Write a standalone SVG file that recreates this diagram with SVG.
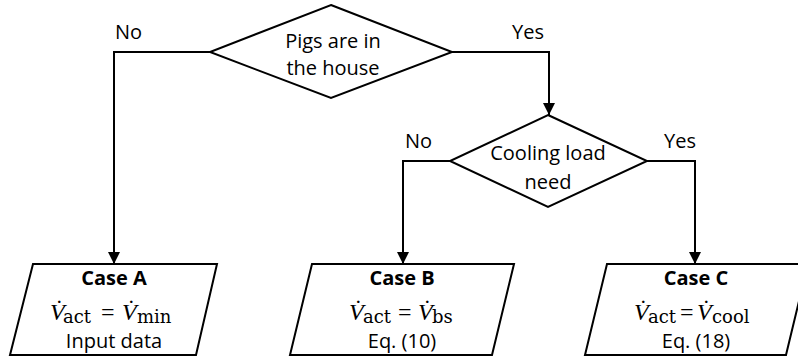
<svg xmlns="http://www.w3.org/2000/svg" width="798" height="360" viewBox="0 0 798 360">
  <style>
    .shape { fill: #ffffff; stroke: #000000; stroke-width: 2; stroke-linejoin: miter; }
    .conn { fill: none; stroke: #000000; stroke-width: 2; }
    .lbl { font-family: "Open Sans", "Noto Sans", sans-serif; font-size: 20px; fill: #000000; }
    .ttl { font-family: "Open Sans", "Noto Sans", sans-serif; font-size: 20px; font-weight: bold; fill: #000000; text-anchor: middle; }
    .mid { text-anchor: middle; }
    .mv { font-family: "Liberation Serif", "Times New Roman", serif; font-style: italic; font-size: 24px; fill: #000000; }
    .mo { font-family: "Liberation Serif", "Times New Roman", serif; font-size: 24px; fill: #000000; }
    .ms { font-family: "DejaVu Serif", "Liberation Serif", serif; font-size: 18px; fill: #000000; }
  </style>
  <defs>
    <marker id="arr" viewBox="0 0 12 12" refX="12" refY="6" markerWidth="12" markerHeight="12" markerUnits="userSpaceOnUse" orient="auto">
      <path d="M0,0 L12,6 L0,12 Z" fill="#000000"/>
    </marker>
  </defs>

  <g id="connectors">
    <polyline class="conn" points="210,52 114,52 114,264" marker-end="url(#arr)"/>
    <polyline class="conn" points="452,52 549,52 549,115" marker-end="url(#arr)"/>
    <polyline class="conn" points="450,161 403,161 403,264" marker-end="url(#arr)"/>
    <polyline class="conn" points="647,161 695,161 695,264" marker-end="url(#arr)"/>
    <text class="lbl" x="115" y="39">No</text>
    <text class="lbl" x="512" y="39">Yes</text>
    <text class="lbl" x="405" y="148">No</text>
    <text class="lbl" x="664" y="148">Yes</text>
  </g>

  <g id="decision-pigs">
    <polygon class="shape" points="331,5 452,52 331,98 210,52"/>
    <text class="lbl mid" x="333" y="48">Pigs are in</text>
    <text class="lbl mid" x="333" y="75">the house</text>
  </g>

  <g id="decision-cooling">
    <polygon class="shape" points="548,115 647,161 548,207 450,161"/>
    <text class="lbl mid" x="548" y="160">Cooling load</text>
    <text class="lbl mid" x="548" y="189">need</text>
  </g>

  <g id="case-a">
    <polygon class="shape" points="33,264 217,264 196,355 10,355"/>
    <text class="ttl" x="114" y="285">Case A</text>
    <text y="320"><tspan class="mv" x="50">V̇</tspan><tspan class="ms" x="63" y="323">act</tspan><tspan class="mo" x="101" y="320">=</tspan><tspan class="mv" x="122">V̇</tspan><tspan class="ms" x="137" y="323">min</tspan></text>
    <text class="lbl mid" x="114" y="348">Input data</text>
  </g>

  <g id="case-b">
    <polygon class="shape" points="312,264 514,264 492,355 290,355"/>
    <text class="ttl" x="402" y="285">Case B</text>
    <text y="320"><tspan class="mv" x="349">V̇</tspan><tspan class="ms" x="363" y="323">act</tspan><tspan class="mo" x="398" y="320">=</tspan><tspan class="mv" x="418">V̇</tspan><tspan class="ms" x="432" y="323">bs</tspan></text>
    <text class="lbl mid" x="402" y="348">Eq. (10)</text>
  </g>

  <g id="case-c">
    <polygon class="shape" points="607,264 808,264 786,355 585,355"/>
    <text class="ttl" x="696" y="285">Case C</text>
    <text y="320"><tspan class="mv" x="634">V̇</tspan><tspan class="ms" x="648" y="323">act</tspan><tspan class="mo" x="680" y="320">=</tspan><tspan class="mv" x="697">V̇</tspan><tspan class="ms" x="712" y="323">cool</tspan></text>
    <text class="lbl mid" x="696" y="348">Eq. (18)</text>
  </g>
</svg>
